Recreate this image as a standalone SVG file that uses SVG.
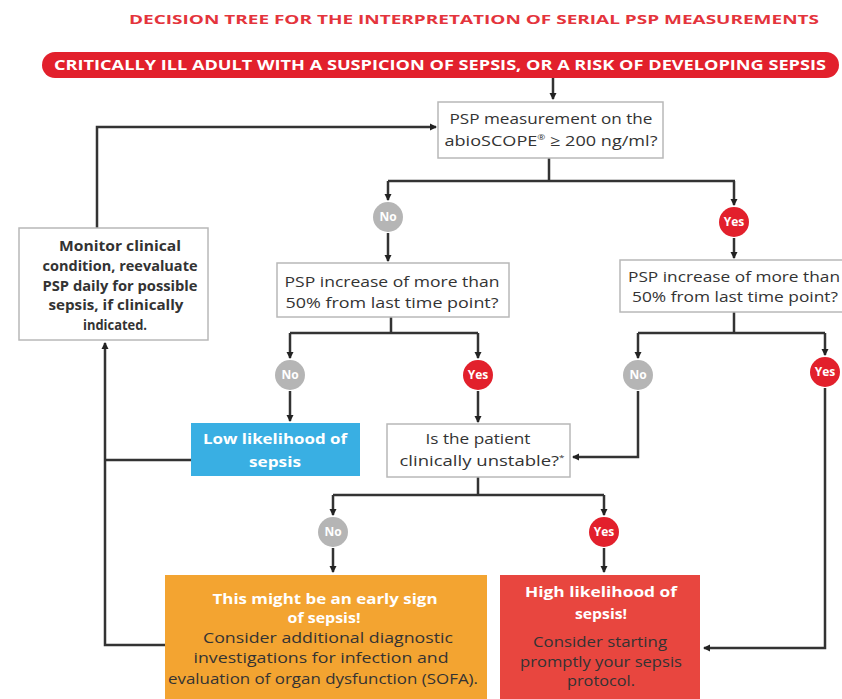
<svg xmlns="http://www.w3.org/2000/svg" width="842" height="699" viewBox="0 0 842 699">
<defs>
<marker id="ah" markerWidth="8" markerHeight="8" refX="6" refY="4" orient="auto" markerUnits="userSpaceOnUse">
<path d="M0,0.5 L7,4 L0,7.5 Z" fill="#222"/>
</marker>
<style>
.ln{fill:none;stroke:#333;stroke-width:2.5}
.box{fill:#fff;stroke:#b8b8b8;stroke-width:1.5}
.t{font-family:"Open Sans","Liberation Sans",sans-serif;font-size:15px;fill:#333;text-anchor:middle}
.w{font-family:"Open Sans","Liberation Sans",sans-serif;font-size:15px;font-weight:bold;fill:#fff;text-anchor:middle}
.no{fill:#b5b5b5}
.yes{fill:#e2202c}
.ct{font-family:"Open Sans","Liberation Sans",sans-serif;font-size:12px;font-weight:bold;fill:#fff;text-anchor:middle}
</style>
</defs>
<rect width="842" height="699" fill="#fff"/>
<text x="474" y="24" font-family="Open Sans, Liberation Sans, sans-serif" font-size="12" font-weight="bold" fill="#e4343c" text-anchor="middle" textLength="690" lengthAdjust="spacingAndGlyphs">DECISION TREE FOR THE INTERPRETATION OF SERIAL PSP MEASUREMENTS</text>

<g id="connectors">
<path class="ln" d="M553,78 V99" marker-end="url(#ah)"/>
<path class="ln" d="M97,228 V127 H436" marker-end="url(#ah)"/>
<path class="ln" d="M549,158 V181"/>
<path class="ln" d="M388,181 H735"/>
<path class="ln" d="M388,181 V200" marker-end="url(#ah)"/>
<path class="ln" d="M734,181 V205" marker-end="url(#ah)"/>
<path class="ln" d="M388,233 V261" marker-end="url(#ah)"/>
<path class="ln" d="M734,238 V258" marker-end="url(#ah)"/>
<path class="ln" d="M391,317 V333"/>
<path class="ln" d="M290,333 H478"/>
<path class="ln" d="M290,333 V358" marker-end="url(#ah)"/>
<path class="ln" d="M478,333 V358" marker-end="url(#ah)"/>
<path class="ln" d="M290,391 V421" marker-end="url(#ah)"/>
<path class="ln" d="M478,391 V422" marker-end="url(#ah)"/>
<path class="ln" d="M734,312 V333"/>
<path class="ln" d="M638,333 H825"/>
<path class="ln" d="M638,333 V358" marker-end="url(#ah)"/>
<path class="ln" d="M825,333 V355" marker-end="url(#ah)"/>
<path class="ln" d="M638,391 V457 H573" marker-end="url(#ah)"/>
<path class="ln" d="M825,388 V648 H704" marker-end="url(#ah)"/>
<path class="ln" d="M478,477 V495"/>
<path class="ln" d="M333,495 H604"/>
<path class="ln" d="M333,495 V515" marker-end="url(#ah)"/>
<path class="ln" d="M604,495 V515" marker-end="url(#ah)"/>
<path class="ln" d="M333,548 V572" marker-end="url(#ah)"/>
<path class="ln" d="M604,548 V572" marker-end="url(#ah)"/>
<path class="ln" d="M191,460 H105"/>
<path class="ln" d="M165,645 H105 V343" marker-end="url(#ah)"/>
</g>

<g id="start">
<rect x="42" y="52" width="797" height="26" rx="13" fill="#e2202c"/>
<text x="440" y="70" class="w" font-size="13" textLength="772" lengthAdjust="spacingAndGlyphs">CRITICALLY ILL ADULT WITH A SUSPICION OF SEPSIS, OR A RISK OF DEVELOPING SEPSIS</text>
</g>

<g id="q1">
<rect class="box" x="438" y="102" width="225" height="56"/>
<text class="t" x="551" y="124" textLength="203" lengthAdjust="spacingAndGlyphs">PSP measurement on the</text>
<text class="t" x="551" y="146" textLength="213" lengthAdjust="spacingAndGlyphs">abioSCOPE<tspan font-size="8" dy="-6">®</tspan><tspan dy="6"> ≥ 200 ng/ml?</tspan></text>
</g>

<g id="monitor">
<rect class="box" x="19" y="228" width="189" height="112"/>
<text class="t" x="120" y="251" font-weight="bold" textLength="122" lengthAdjust="spacingAndGlyphs">Monitor clinical</text>
<text class="t" x="120" y="271" font-weight="bold" textLength="155" lengthAdjust="spacingAndGlyphs">condition, reevaluate</text>
<text class="t" x="120" y="291" font-weight="bold" textLength="155" lengthAdjust="spacingAndGlyphs">PSP daily for possible</text>
<text class="t" x="116" y="310" font-weight="bold" textLength="135" lengthAdjust="spacingAndGlyphs">sepsis, if clinically</text>
<text class="t" x="115" y="330" font-weight="bold" textLength="64" lengthAdjust="spacingAndGlyphs">indicated.</text>
</g>

<g id="c-no1"><circle class="no" cx="388" cy="217" r="15"/><text class="ct" x="388" y="221">No</text></g>
<g id="c-yes1"><circle class="yes" cx="734" cy="222" r="15"/><text class="ct" x="734" y="226">Yes</text></g>

<g id="q2">
<rect class="box" x="277" y="263" width="232" height="54"/>
<text class="t" x="392" y="287" textLength="215" lengthAdjust="spacingAndGlyphs">PSP increase of more than</text>
<text class="t" x="392" y="308" textLength="213" lengthAdjust="spacingAndGlyphs">50% from last time point?</text>
</g>

<g id="q3">
<rect class="box" x="620" y="260" width="225" height="52"/>
<text class="t" x="734" y="282" textLength="212" lengthAdjust="spacingAndGlyphs">PSP increase of more than</text>
<text class="t" x="735" y="302" textLength="206" lengthAdjust="spacingAndGlyphs">50% from last time point?</text>
</g>

<g id="c-no2"><circle class="no" cx="290" cy="375" r="15"/><text class="ct" x="290" y="379">No</text></g>
<g id="c-yes2"><circle class="yes" cx="478" cy="375" r="15"/><text class="ct" x="478" y="379">Yes</text></g>
<g id="c-no3"><circle class="no" cx="638" cy="375" r="15"/><text class="ct" x="638" y="379">No</text></g>
<g id="c-yes3"><circle class="yes" cx="825" cy="372" r="15"/><text class="ct" x="825" y="376">Yes</text></g>

<g id="low">
<rect x="191" y="423" width="169" height="53" fill="#39afe3"/>
<text class="w" x="275" y="444" textLength="144" lengthAdjust="spacingAndGlyphs">Low likelihood of</text>
<text class="w" x="275" y="467" textLength="52" lengthAdjust="spacingAndGlyphs">sepsis</text>
</g>

<g id="q4">
<rect class="box" x="387" y="424" width="183" height="53"/>
<text class="t" x="478" y="444" textLength="105" lengthAdjust="spacingAndGlyphs">Is the patient</text>
<text class="t" x="482" y="466" textLength="165" lengthAdjust="spacingAndGlyphs">clinically unstable?<tspan font-size="8" dy="-6">*</tspan></text>
</g>

<g id="c-no4"><circle class="no" cx="333" cy="532" r="15"/><text class="ct" x="333" y="536">No</text></g>
<g id="c-yes4"><circle class="yes" cx="604" cy="532" r="15"/><text class="ct" x="604" y="536">Yes</text></g>

<g id="early">
<rect x="165" y="575" width="322" height="124" fill="#f3a431"/>
<text class="w" x="325" y="604" textLength="225" lengthAdjust="spacingAndGlyphs">This might be an early sign</text>
<text class="w" x="324" y="623" textLength="73" lengthAdjust="spacingAndGlyphs">of sepsis!</text>
<text class="t" x="328" y="643" fill="#4a2a08" textLength="250" lengthAdjust="spacingAndGlyphs">Consider additional diagnostic</text>
<text class="t" x="321" y="663" fill="#4a2a08" textLength="255" lengthAdjust="spacingAndGlyphs">investigations for infection and</text>
<text class="t" x="323" y="684" fill="#4a2a08" textLength="310" lengthAdjust="spacingAndGlyphs">evaluation of organ dysfunction (SOFA).</text>
</g>

<g id="high">
<rect x="500" y="575" width="200" height="124" fill="#e8463f"/>
<text class="w" x="601" y="597" textLength="152" lengthAdjust="spacingAndGlyphs">High likelihood of</text>
<text class="w" x="601" y="619" textLength="52" lengthAdjust="spacingAndGlyphs">sepsis!</text>
<text class="t" x="600" y="647" fill="#4a0a08" textLength="134" lengthAdjust="spacingAndGlyphs">Consider starting</text>
<text class="t" x="601" y="667" fill="#4a0a08" textLength="162" lengthAdjust="spacingAndGlyphs">promptly your sepsis</text>
<text class="t" x="601" y="686" fill="#4a0a08" textLength="68" lengthAdjust="spacingAndGlyphs">protocol.</text>
</g>
</svg>
